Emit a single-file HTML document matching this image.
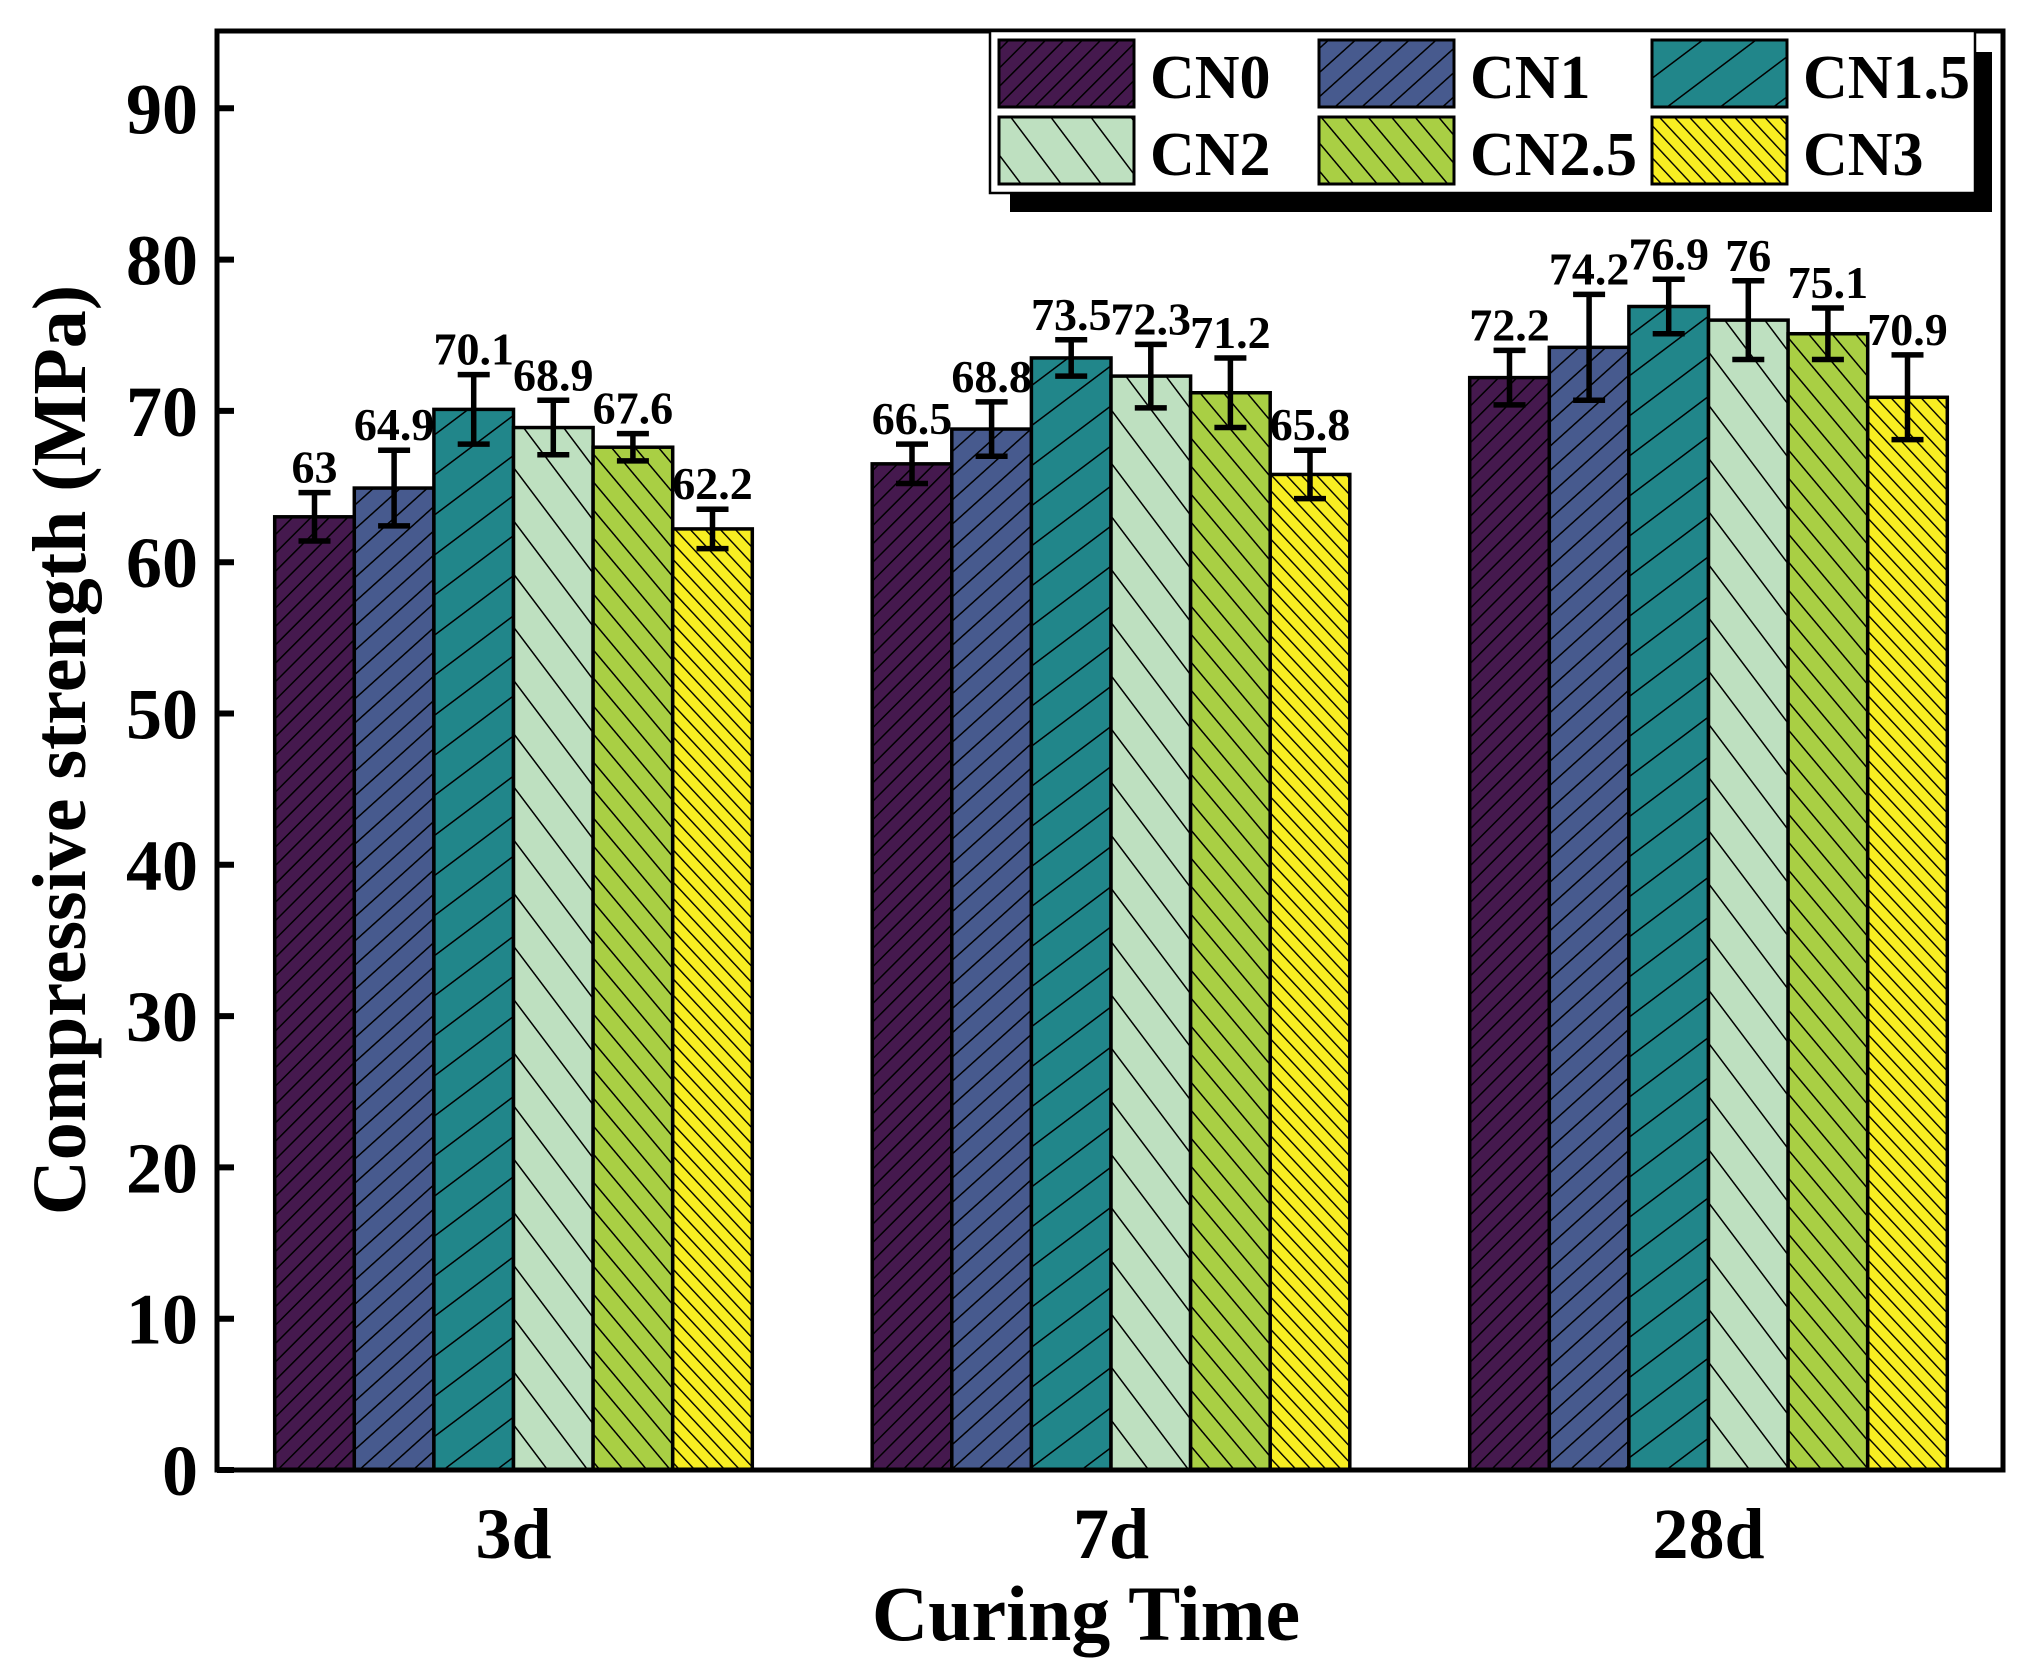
<!DOCTYPE html>
<html><head><meta charset="utf-8"><style>
html,body{margin:0;padding:0;background:#fff;}
svg{display:block;font-family:"Liberation Serif",serif;font-weight:bold;}
</style></head><body>
<svg id="chart" width="2037" height="1673" viewBox="0 0 2037 1673" xmlns="http://www.w3.org/2000/svg">
<defs>
<pattern id="p0" patternUnits="userSpaceOnUse" width="13" height="13" patternTransform="rotate(45)"><rect width="13" height="13" fill="#45194e"/><line x1="0" y1="0" x2="0" y2="13" stroke="#000" stroke-width="3"/></pattern>
<pattern id="p1" patternUnits="userSpaceOnUse" width="18" height="18" patternTransform="rotate(48)"><rect width="18" height="18" fill="#475a8e"/><line x1="0" y1="0" x2="0" y2="18" stroke="#000" stroke-width="3"/></pattern>
<pattern id="p2" patternUnits="userSpaceOnUse" width="32" height="32" patternTransform="rotate(53)"><rect width="32" height="32" fill="#21868a"/><line x1="0" y1="0" x2="0" y2="32" stroke="#000" stroke-width="3"/></pattern>
<pattern id="p3" patternUnits="userSpaceOnUse" width="32" height="32" patternTransform="rotate(-37)"><rect width="32" height="32" fill="#bee0c0"/><line x1="0" y1="0" x2="0" y2="32" stroke="#000" stroke-width="3"/></pattern>
<pattern id="p4" patternUnits="userSpaceOnUse" width="18" height="18" patternTransform="rotate(-40)"><rect width="18" height="18" fill="#a9cf44"/><line x1="0" y1="0" x2="0" y2="18" stroke="#000" stroke-width="3"/></pattern>
<pattern id="p5" patternUnits="userSpaceOnUse" width="11" height="11" patternTransform="rotate(-43)"><rect width="11" height="11" fill="#f8ee22"/><line x1="0" y1="0" x2="0" y2="11" stroke="#000" stroke-width="2.8"/></pattern>
</defs>
<g id="plot"></g>
<g id="axes"></g>
<g id="legend"></g>
</svg>
<script>
const categories = ["3d","7d","28d"];
const seriesNames = ["CN0","CN1","CN1.5","CN2","CN2.5","CN3"];
const cn0 = [63, 66.5, 72.2];
const cn1 = [64.9, 68.8, 74.2];
const cn15 = [70.1, 73.5, 76.9];
const cn2 = [68.9, 72.3, 76];
const cn25 = [67.6, 71.2, 75.1];
const cn3 = [62.2, 65.8, 70.9];
const err0 = [1.6, 1.3, 1.8];
const err1 = [2.5, 1.8, 3.5];
const err15 = [2.3, 1.2, 1.8];
const err2 = [1.8, 2.1, 2.6];
const err25 = [0.9, 2.3, 1.7];
const err3 = [1.3, 1.6, 2.8];
const yTicks = [0,10,20,30,40,50,60,70,80,90];

const NS = "http://www.w3.org/2000/svg";
const values = [cn0, cn1, cn15, cn2, cn25, cn3];
const errs = [err0, err1, err15, err2, err25, err3];
const X0 = 217, X1 = 2003, Y0 = 1470, YT = 31;
const pxPerUnit = 15.13;
const y = v => Y0 - v * pxPerUnit;
const barW = 79.6;
const groupCenter = i => 513.5 + 597.5 * i;
const barX = (i, s) => groupCenter(i) - 3 * barW + s * barW;

function mk(tag, attrs, parent, text) {
  const el = document.createElementNS(NS, tag);
  for (const k in attrs) el.setAttribute(k, attrs[k]);
  if (text !== undefined) el.textContent = text;
  parent.appendChild(el);
  return el;
}
const plot = document.getElementById('plot');
const axes = document.getElementById('axes');
const legend = document.getElementById('legend');

categories.forEach((c, i) => {
  values.forEach((arr, s) => {
    const v = arr[i], e = errs[s][i];
    const bx = barX(i, s);
    const r = mk('rect', {x: bx, y: y(v), width: barW, height: Y0 - y(v), fill: 'url(#p' + s + ')', stroke: '#000', 'stroke-width': 3.5}, plot);
    
    
    const cx = bx + barW / 2;
    const g = mk('g', {stroke: '#000', 'stroke-width': 5.5}, plot);
    
    
    mk('line', {x1: cx, x2: cx, y1: y(v + e), y2: y(v - e)}, g);
    mk('line', {x1: cx - 16, x2: cx + 16, y1: y(v + e), y2: y(v + e)}, g);
    mk('line', {x1: cx - 16, x2: cx + 16, y1: y(v - e), y2: y(v - e)}, g);
    const t = mk('text', {x: cx, y: y(v + e) - 10, 'text-anchor': 'middle', 'font-size': 46}, plot, String(v));
    
    
  });
  const xl = mk('text', {x: groupCenter(i), y: 1558, 'text-anchor': 'middle', 'font-size': 72}, axes, c);
  
  
});

const frame = mk('rect', {x: X0, y: YT, width: X1 - X0, height: Y0 - YT, fill: 'none', stroke: '#000', 'stroke-width': 5}, axes);


yTicks.forEach(t => {
  const tk = mk('line', {x1: X0, x2: X0 + 17, y1: y(t), y2: y(t), stroke: '#000', 'stroke-width': 6}, axes);
  
  
  const tl = mk('text', {x: 198, y: y(t) + 25, 'text-anchor': 'end', 'font-size': 72}, axes, String(t));
  
  
});
const yt = mk('text', {x: 0, y: 0, transform: 'translate(85,750) rotate(-90)', 'text-anchor': 'middle', 'font-size': 76}, axes, 'Compressive strength (MPa)');


const xt = mk('text', {x: 1086, y: 1640, 'text-anchor': 'middle', 'font-size': 78}, axes, 'Curing Time');



const sh = mk('rect', {x: 1010, y: 52, width: 982, height: 160, fill: '#000'}, legend);


const lb = mk('rect', {x: 990, y: 31, width: 985, height: 162, fill: '#fff', stroke: '#000', 'stroke-width': 2.5}, legend);


const colX = [999, 1319, 1652];
const rowY = [40, 117];
seriesNames.forEach((n, s) => {
  const cx = colX[s % 3], ry = rowY[Math.floor(s / 3)];
  const g = mk('g', {}, legend);
  
  
  mk('rect', {x: cx, y: ry, width: 135, height: 67, fill: 'url(#p' + s + ')', stroke: '#000', 'stroke-width': 3}, g);
  mk('text', {x: cx + 151, y: ry + 58, 'font-size': 62}, g, n);
});
</script>
</body></html>
